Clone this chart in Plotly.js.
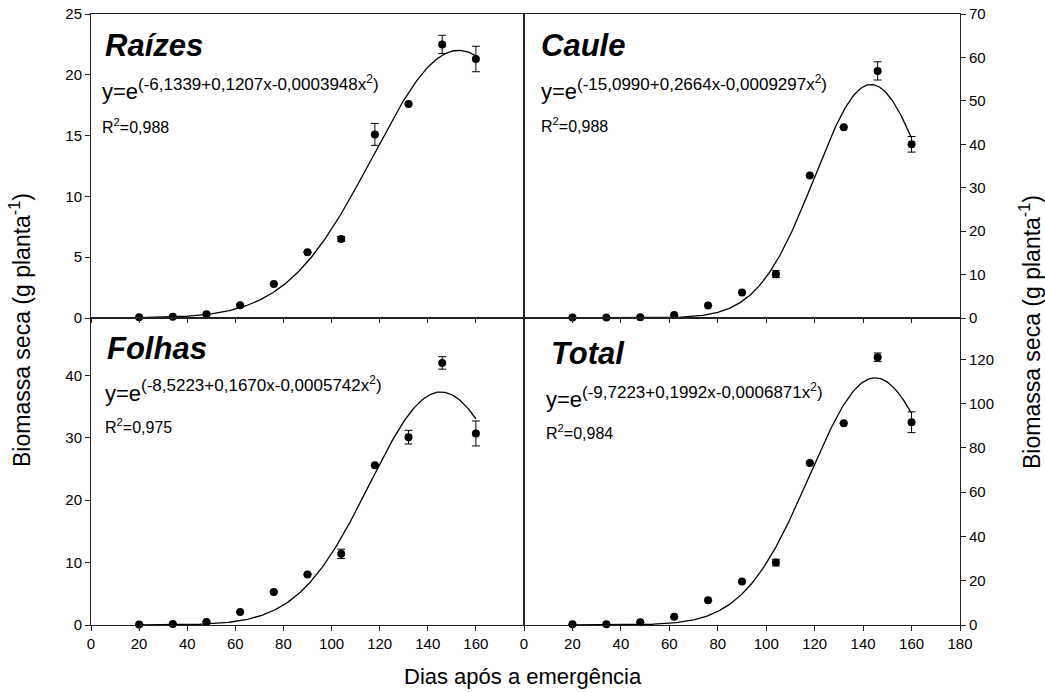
<!DOCTYPE html>
<html>
<head>
<meta charset="utf-8">
<script src="https://cdn.plot.ly/plotly-3.0.1.min.js"></script>
<style>html,body{margin:0;padding:0;background:#fff;}#chart{width:1045px;height:692px;}</style>
</head>
<body>
<div id="chart"></div>
<script>
// ---- data ----
const days = [20, 34, 48, 62, 76, 90, 104, 118, 132, 146, 160];

const raizes     = [0.06, 0.1, 0.3, 1.05, 2.8, 5.4, 6.5, 15.1, 17.6, 22.5, 21.3];
const raizesErr  = [0, 0, 0, 0, 0, 0, 0.2, 0.9, 0, 0.75, 1.05];

const caule      = [0.1, 0.1, 0.2, 0.7, 2.9, 5.9, 10.1, 32.8, 43.9, 56.9, 40.0];
const cauleErr   = [0, 0, 0, 0, 0, 0, 0.8, 0, 0, 2.1, 1.8];

const folhas     = [0.1, 0.15, 0.5, 2.1, 5.3, 8.1, 11.4, 25.6, 30.1, 42.0, 30.7];
const folhasErr  = [0, 0, 0, 0, 0, 0, 0.75, 0, 1.1, 1.0, 2.0];

const total      = [0.3, 0.3, 1.2, 3.75, 11.2, 19.6, 28.2, 73.2, 91.1, 121.0, 91.6];
const totalErr   = [0, 0, 0, 0, 0, 0, 1.5, 0, 0, 1.9, 4.7];

// regression coefficients printed on the chart: y = exp(a + b x + c x^2)
const coefRaizes = [-6.1339, 0.1207, -0.0003948];
const coefCaule  = [-15.0990, 0.2664, -0.0009297];
const coefFolhas = [-8.5223, 0.1670, -0.0005742];
const coefTotal  = [-9.7223, 0.1992, -0.0006871];

const panelNames = ["Raízes", "Caule", "Folhas", "Total"];
const eqTexts = [
  "(-6,1339+0,1207x-0,0003948x<sup>2</sup>)",
  "(-15,0990+0,2664x-0,0009297x<sup>2</sup>)",
  "(-8,5223+0,1670x-0,0005742x<sup>2</sup>)",
  "(-9,7223+0,1992x-0,0006871x<sup>2</sup>)"
];
const r2Texts = ["0,988", "0,988", "0,975", "0,984"];

const xTicks = [0, 20, 40, 60, 80, 100, 120, 140, 160, 180];
const xTickText = ["0", "20", "40", "60", "80", "100", "120", "140", "160", "180"];
const yTicksRaizes = [0, 5, 10, 15, 20, 25];
const yTicksCaule  = [0, 10, 20, 30, 40, 50, 60, 70];
const yTicksFolhas = [0, 10, 20, 30, 40];
const yTicksTotal  = [0, 20, 40, 60, 80, 100, 120];

// ---- build ----
const FONT = "Liberation Sans, Arial, sans-serif";
const series = [
  {y: raizes, e: raizesErr, c: coefRaizes, xa: "x",  ya: "y"},
  {y: caule,  e: cauleErr,  c: coefCaule,  xa: "x2", ya: "y2"},
  {y: folhas, e: folhasErr, c: coefFolhas, xa: "x3", ya: "y3"},
  {y: total,  e: totalErr,  c: coefTotal,  xa: "x4", ya: "y4"}
];

const traces = [];
series.forEach(s => {
  const fx = [], fy = [];
  for (let d = days[0]; d <= days[days.length - 1]; d += 0.5) {
    fx.push(d);
    fy.push(Math.exp(s.c[0] + s.c[1] * d + s.c[2] * d * d));
  }
  traces.push({x: fx, y: fy, xaxis: s.xa, yaxis: s.ya, mode: "lines",
    line: {color: "#000", width: 1.3}, hoverinfo: "skip", cliponaxis: false});
  traces.push({x: days, y: s.y, xaxis: s.xa, yaxis: s.ya, mode: "markers",
    marker: {color: "#000", size: 8},
    error_y: {type: "data", array: s.e, visible: true, color: "#000", thickness: 1, width: 4},
    cliponaxis: false});
});

const W = 1045, H = 692, L = 91, R = 960, T = 14, B = 625;
const px = x => (x - L) / (R - L);
const py = y => (B - y) / (B - T);
const xSplit = px(524), ySplit = py(318);

const axLine = {showline: true, linecolor: "#222", linewidth: 1, mirror: true,
  zeroline: false, showgrid: false, ticks: "outside", ticklen: 5, tickcolor: "#222",
  tickfont: {family: FONT, size: 15, color: "#000"}};

const layout = {
  width: W, height: H,
  margin: {l: L, r: W - R, t: T, b: H - B, pad: 0},
  paper_bgcolor: "#fff", plot_bgcolor: "#fff",
  showlegend: false,
  font: {family: FONT, color: "#000"},
  xaxis:  Object.assign({}, axLine, {domain: [0, xSplit], anchor: "y", range: [0, 180], tickvals: xTicks, showticklabels: false, ticklen: 4}),
  yaxis:  Object.assign({}, axLine, {domain: [ySplit, 1], anchor: "x", range: [0, 25], tickvals: yTicksRaizes}),
  xaxis2: Object.assign({}, axLine, {domain: [xSplit, 1], anchor: "y2", range: [0, 180], tickvals: xTicks, showticklabels: false, ticklen: 4}),
  yaxis2: Object.assign({}, axLine, {domain: [ySplit, 1], anchor: "x2", side: "right", range: [0, 70], tickvals: yTicksCaule}),
  xaxis3: Object.assign({}, axLine, {domain: [0, xSplit], anchor: "y3", range: [0, 180], tickvals: xTicks,
    ticktext: xTickText.slice(0, 9).concat([""])}),
  yaxis3: Object.assign({}, axLine, {domain: [0, ySplit], anchor: "x3", range: [0, 49.2], tickvals: yTicksFolhas}),
  xaxis4: Object.assign({}, axLine, {domain: [xSplit, 1], anchor: "y4", range: [0, 180], tickvals: xTicks, ticktext: xTickText}),
  yaxis4: Object.assign({}, axLine, {domain: [0, ySplit], anchor: "x4", side: "right", range: [0, 138.7], tickvals: yTicksTotal}),
  annotations: []
};

// annotation positions in pixels (layout only)
const pos = [
  {title: [104, 45], ye: [101, 92], ex: [137, 83], r2: [101, 126]},
  {title: [540, 45], ye: [540, 91], ex: [576, 83], r2: [540, 125]},
  {title: [106, 348], ye: [104, 393], ex: [140, 384], r2: [104, 426]},
  {title: [550, 353], ye: [545, 400], ex: [581, 391], r2: [545, 432]}
];
function ann(text, x, y, size, extra) {
  return Object.assign({text: text, xref: "paper", yref: "paper", x: px(x), y: py(y),
    xanchor: "left", yanchor: "middle", showarrow: false, borderpad: 0,
    font: {family: FONT, size: size, color: "#000"}}, extra || {});
}
pos.forEach((p, i) => {
  layout.annotations.push(ann("<b><i>" + panelNames[i] + "</i></b>", p.title[0], p.title[1], 31));
  layout.annotations.push(ann("y=e", p.ye[0], p.ye[1], 22));
  layout.annotations.push(ann(eqTexts[i], p.ex[0], p.ex[1], 17));
  layout.annotations.push(ann("R<sup>2</sup>=" + r2Texts[i], p.r2[0], p.r2[1], 16));
});
layout.annotations.push(ann("Biomassa seca (g planta<sup>-1</sup>)", 20, 330, 23, {xanchor: "center", textangle: -90}));
layout.annotations.push(ann("Biomassa seca (g planta<sup>-1</sup>)", 1030, 332, 23, {xanchor: "center", textangle: -90}));
layout.annotations.push(ann("Dias após a emergência", 523, 677, 22, {xanchor: "center"}));

Plotly.newPlot("chart", traces, layout, {staticPlot: true, displayModeBar: false});
</script>
</body>
</html>
